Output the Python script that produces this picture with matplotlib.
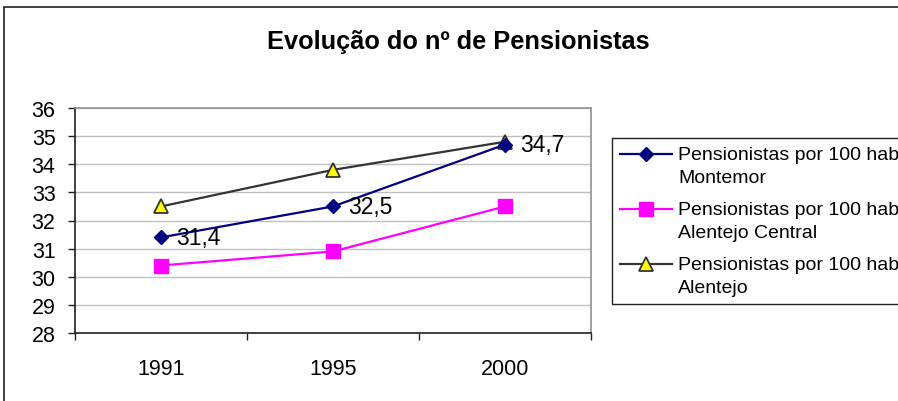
import matplotlib.pyplot as plt
from matplotlib.patches import Rectangle
from matplotlib.lines import Line2D
from matplotlib.ticker import FixedLocator
import numpy as np

# --- datos ---
anos = ['1991', '1995', '2000']
montemor = [31.4, 32.5, 34.7]
alentejo_central = [30.4, 30.9, 32.5]
alentejo = [32.5, 33.8, 34.8]
etiquetas_montemor = ['31,4', '32,5', '34,7']
nomes = ['Pensionistas por 100 hab\nMontemor',
         'Pensionistas por 100 hab\nAlentejo Central',
         'Pensionistas por 100 hab\nAlentejo']

plt.rcParams['font.family'] = ['Liberation Sans', 'DejaVu Sans']

W, H = 898, 402
fig = plt.figure(figsize=(W / 100, H / 100), dpi=100)

# marco exterior del gráfico
fig.patches.append(Rectangle((4 / W, -0.1), 1.2, 1 - 8 / H + 0.1, transform=fig.transFigure,
                             fill=False, edgecolor='#202020', linewidth=1.2, clip_on=False))

ax = fig.add_axes([75 / W, 1 - 334 / H, (591 - 75) / W, (334 - 109) / H])
x = range(len(anos))

ax.plot(x, montemor, color='#000080', linewidth=1.6, marker='D', markersize=7.5,
        markerfacecolor='#000080', markeredgecolor='#000080', label=nomes[0], zorder=4)
ax.plot(x, alentejo_central, color='#FF00FF', linewidth=1.6, marker='s', markersize=9.5,
        markerfacecolor='#FF00FF', markeredgecolor='#FF00FF', label=nomes[1], zorder=3)
ax.plot(x, alentejo, color='#333333', linewidth=1.6, marker='^', markersize=10,
        markerfacecolor='#FFFF00', markeredgecolor='#333333', markeredgewidth=1.3,
        label=nomes[2], zorder=3)

for xi, yi, txt in zip(x, montemor, etiquetas_montemor):
    ax.annotate(txt, (xi, yi), xytext=(11, 0), textcoords='offset points',
                ha='left', va='center', fontsize=16.5, zorder=5)

ax.set_xlim(-0.5, 2.5)
ax.set_ylim(28, 36)
ax.set_yticks(range(28, 37))
ax.tick_params(axis='y', direction='out', length=5, width=1, labelsize=15.5, pad=9, color='#202020')

ax.xaxis.set_major_locator(FixedLocator([-0.5, 0.5, 1.5, 2.5]))
ax.xaxis.set_minor_locator(FixedLocator(list(x)))
ax.set_xticklabels([], minor=False)
ax.set_xticklabels(anos, minor=True)
ax.tick_params(axis='x', which='major', direction='out', length=5, width=1, color='#202020')
ax.tick_params(axis='x', which='minor', length=0, labelsize=15.5, pad=18)

ax.grid(axis='y', color='#C0C0C0', linewidth=1)
ax.set_axisbelow(True)
for lado in ['top', 'right']:
    ax.spines[lado].set_color('#909090')
for lado in ['left', 'bottom']:
    ax.spines[lado].set_color('#202020')
for s in ax.spines.values():
    s.set_linewidth(1.2)

fig.text(458 / W, 1 - 42 / H, 'Evolução do nº de Pensionistas', ha='center', va='center',
         fontsize=18.3, fontweight='bold')

leg = fig.legend(loc='upper left', bbox_to_anchor=(612 / W, 1 - 139 / H),
                 bbox_transform=fig.transFigure, borderaxespad=0, fontsize=14,
                 fancybox=False, framealpha=1, edgecolor='#202020', handlelength=2.7,
                 handletextpad=0.3, labelspacing=0.75, borderpad=0.4)
leg.get_frame().set_linewidth(1)
for t in leg.get_texts():
    t.set_linespacing(1.5)

# subir los símbolos de la leyenda a la primera línea del texto
dy = 8.3
for col in leg._legend_handle_box.get_children():
    for entrada in col.get_children():
        caja = entrada.get_children()[0]
        for art in caja.get_children():
            if isinstance(art, Line2D):
                art.set_ydata(np.asarray(art.get_ydata(), dtype=float) + dy)

fig.savefig('out.png', dpi=100)
